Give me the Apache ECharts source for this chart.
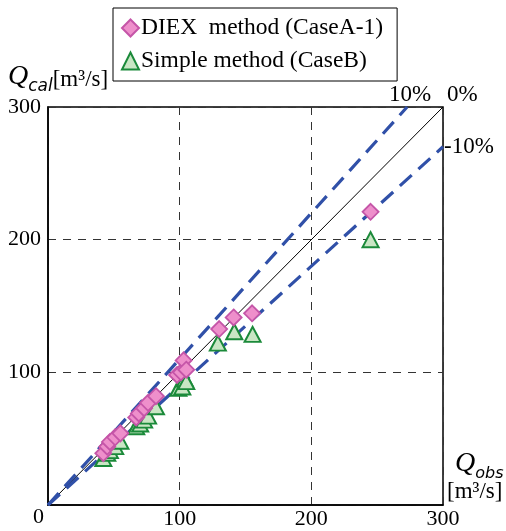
<!DOCTYPE html>
<html><head><meta charset="utf-8">
<script src="https://cdn.jsdelivr.net/npm/echarts@6/dist/echarts.min.js"></script>
<style>html,body{margin:0;padding:0;background:#fff}#c{width:506px;height:531px}</style>
</head><body><div id="c"></div>
<script>
const diexObs = [42, 45, 47, 51, 55, 67, 69, 73, 76, 82, 98, 101, 103, 105, 130, 141, 155, 245];
const diexCal = [39, 44, 47.5, 51, 54, 66, 69, 73, 77, 82, 98, 100, 109, 102, 132.6, 141.4, 144.5, 221];
const simpleObs = [42, 45, 47, 51, 55, 67, 70, 73, 76, 82, 99, 102, 104, 105, 129, 141.5, 155.4, 245];
const simpleCal = [35, 39, 41, 44, 48, 59, 61, 64, 67, 74, 88, 89, 95, 93, 122, 130.6, 128.6, 200];
const refRatios = [1.1, 1.0, 0.9];
const axisTicks = [0, 100, 200, 300];
const seriesNames = ['DIEX  method (CaseA-1)', 'Simple method (CaseB)'];

const FONT = '"Liberation Serif", "DejaVu Serif", serif';
const AMAX = 300;
function refLine(r) {
  const x = Math.min(AMAX, AMAX / r);
  return [[0, 0], [x, x * r]];
}
const zip = (a, b) => a.map((v, i) => [v, b[i]]);

const chart = echarts.init(document.getElementById('c'));
chart.setOption({
  animation: false,
  grid: { left: 48, top: 107, right: 63, bottom: 26, show: true, borderColor: '#000', borderWidth: 1.5 },
  legend: {
    orient: 'vertical', left: 113, top: 8, padding: [8, 14, 8, 8], itemGap: 9,
    itemWidth: 17, itemHeight: 17, borderColor: '#000', borderWidth: 1,
    textStyle: { fontFamily: FONT, fontSize: 23.5, color: '#000', padding: [0, 0, 0, -3] },
    data: seriesNames
  },
  xAxis: {
    type: 'value', min: 0, max: 300, interval: 100,
    axisLine: { lineStyle: { color: '#000', width: 1.5 } },
    axisTick: { show: false },
    splitLine: { lineStyle: { color: '#333', type: [8, 7], width: 1 } },
    axisLabel: { fontFamily: FONT, fontSize: 22, color: '#000', margin: 3,
      formatter: v => (v === 0 ? '' : String(v)) }
  },
  yAxis: {
    type: 'value', min: 0, max: 300, interval: 100,
    axisLine: { lineStyle: { color: '#000', width: 1.5 } },
    axisTick: { show: false },
    splitLine: { lineStyle: { color: '#333', type: [8, 7], width: 1 } },
    axisLabel: { fontFamily: FONT, fontSize: 22, color: '#000', margin: 7,
      formatter: v => (v === 0 ? '' : String(v)) }
  },
  series: [
    { type: 'line', data: refLine(refRatios[1]), symbol: 'none', silent: true,
      lineStyle: { color: '#000', width: 1 }, z: 1 },
    { type: 'line', data: refLine(refRatios[0]), symbol: 'none', silent: true,
      lineStyle: { color: '#3050a8', width: 3.2, type: [16, 9] }, z: 2 },
    { type: 'line', data: refLine(refRatios[2]), symbol: 'none', silent: true,
      lineStyle: { color: '#3050a8', width: 3.2, type: [16, 9] }, z: 2 },
    { name: seriesNames[1], type: 'scatter', data: zip(simpleObs, simpleCal),
      symbol: 'triangle', symbolSize: [16, 15],
      itemStyle: { color: '#c9e6c4', borderColor: '#1b8a3a', borderWidth: 2, opacity: 1 }, z: 3 },
    { name: seriesNames[0], type: 'scatter', data: zip(diexObs, diexCal),
      symbol: 'diamond', symbolSize: [16, 16],
      itemStyle: { color: '#ee8fcb', borderColor: '#c555a8', borderWidth: 1.8, opacity: 1 }, z: 4 }
  ],
  graphic: [
    { type: 'text', left: 33, top: 506, style: { text: '0', font: '22px ' + FONT, fill: '#000' } },
    { type: 'text', left: 389, top: 83, style: { text: '10%', font: '23px ' + FONT, fill: '#000' } },
    { type: 'text', left: 447, top: 83, style: { text: '0%', font: '23px ' + FONT, fill: '#000' } },
    { type: 'text', left: 444, top: 135, style: { text: '-10%', font: '23px ' + FONT, fill: '#000' } },
    { type: 'text', left: 8, top: 63, style: {
      text: '{q|Q}{s|cal}{u|[m³/s]}',
      rich: {
        q: { fontFamily: FONT, fontStyle: 'italic', fontSize: 28, fill: '#000', verticalAlign: 'bottom' },
        s: { fontFamily: 'DejaVu Sans, sans-serif', fontStyle: 'italic', fontSize: 17, fill: '#000', padding: [0, 0, -4, 0], verticalAlign: 'bottom' },
        u: { fontFamily: FONT, fontSize: 23, fill: '#000', verticalAlign: 'bottom' }
      } } },
    { type: 'text', left: 455, top: 450, style: {
      text: '{q|Q}{s|obs}',
      rich: {
        q: { fontFamily: FONT, fontStyle: 'italic', fontSize: 28, fill: '#000', verticalAlign: 'bottom' },
        s: { fontFamily: 'DejaVu Sans, sans-serif', fontStyle: 'italic', fontSize: 16, fill: '#000', padding: [0, 0, -4, 0], verticalAlign: 'bottom' }
      } } },
    { type: 'text', left: 447, top: 480, style: { text: '[m³/s]', font: '23px ' + FONT, fill: '#000' } }
  ]
});
</script></body></html>
